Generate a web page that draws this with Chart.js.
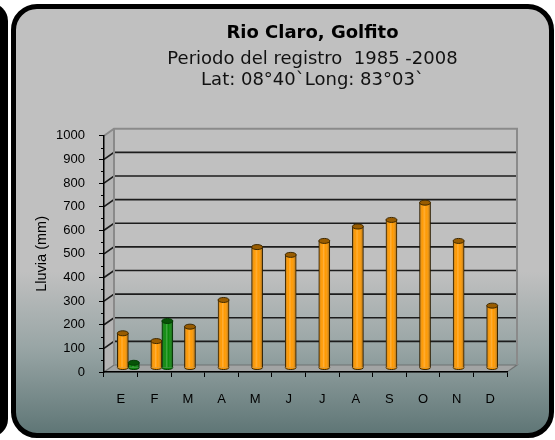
<!DOCTYPE html>
<html>
<head>
<meta charset="utf-8">
<script src="https://cdn.jsdelivr.net/npm/chart.js@4.4.0/dist/chart.umd.min.js"></script>
<style>
  html, body { margin: 0; padding: 0; background: #fff; }
  #wrap { position: relative; width: 555px; height: 440px; overflow: hidden; }
  #vecino { position: absolute; left: -540px; top: 3px; width: 548px; height: 434px; background: #000; border-radius: 18px; }
  #marco {
    position: absolute; left: 11px; top: 4px; width: 543px; height: 434px;
    box-sizing: border-box; border: 5px solid #000; border-radius: 26px;
    background: linear-gradient(to bottom, #c0c0c0 0%, #c0c0c0 62%, #98a5a5 80%, #5f7676 100%);
  }
  canvas { position: absolute; left: 0; top: 0; }
</style>
</head>
<body>
<div id="wrap">
  <div id="vecino"></div>
  <div id="marco"></div>
  <canvas id="chart" width="555" height="440"></canvas>
</div>
<script>
const meses = ['E', 'F', 'M', 'A', 'M', 'J', 'J', 'A', 'S', 'O', 'N', 'D'];
const lluvia = [147, 114, 175, 288, 512, 479, 538, 599, 627, 700, 538, 264];
const lluviaVerde = [22, 199, null, null, null, null, null, null, null, null, null, null];
const vacio = meses.map(() => null);   // empty slot so the orange bar stays centred
const yMax = 1000;
const yPaso = 100;

const DX = 10, DY = -7;   // depth of the fake 3d box

function tono(hex, f) {
  const n = parseInt(hex.slice(1), 16);
  const r = Math.round(((n >> 16) & 255) * f), g = Math.round(((n >> 8) & 255) * f), b = Math.round((n & 255) * f);
  return `rgb(${r},${g},${b})`;
}

const caja3d = {
  id: 'caja3d',
  afterLayout(chart) {
    // title in the original sits a little right of the plot centre
    chart.boxes.forEach(b => {
      if (b.position === 'top' && b.options && b.options.text) { b.left += 7; b.right += 7; }
    });
  },
  beforeDraw(chart) {
    const {ctx, chartArea: a, scales: {y}} = chart;
    ctx.save();
    // left wall
    ctx.fillStyle = '#b4b4b4';
    ctx.beginPath();
    ctx.moveTo(a.left, a.top); ctx.lineTo(a.left + DX, a.top + DY);
    ctx.lineTo(a.left + DX, a.bottom + DY); ctx.lineTo(a.left, a.bottom);
    ctx.closePath(); ctx.fill();
    // floor
    ctx.fillStyle = '#a2a4a4';
    ctx.beginPath();
    ctx.moveTo(a.left, a.bottom); ctx.lineTo(a.right, a.bottom);
    ctx.lineTo(a.right + DX, a.bottom + DY); ctx.lineTo(a.left + DX, a.bottom + DY);
    ctx.closePath(); ctx.fill();
    ctx.strokeStyle = '#6f7272'; ctx.lineWidth = 1.2; ctx.stroke();
    // grid lines on the back wall
    ctx.strokeStyle = '#1c1c1c'; ctx.lineWidth = 1.6;
    for (let v = yPaso; v < yMax; v += yPaso) {
      const py = y.getPixelForValue(v);
      ctx.beginPath();
      ctx.moveTo(a.left, py); ctx.lineTo(a.left + DX, py + DY); ctx.lineTo(a.right + DX, py + DY);
      ctx.stroke();
    }
    // box edges
    ctx.strokeStyle = '#8a8a8a'; ctx.lineWidth = 2;
    const pt = y.getPixelForValue(yMax);
    ctx.beginPath();
    ctx.moveTo(a.left, pt); ctx.lineTo(a.left + DX, pt + DY); ctx.lineTo(a.right + DX, pt + DY);
    ctx.lineTo(a.right + DX, a.bottom + DY);
    ctx.moveTo(a.left + DX, pt + DY); ctx.lineTo(a.left + DX, a.bottom + DY);
    ctx.stroke();
    // minor ticks
    ctx.strokeStyle = '#000'; ctx.lineWidth = 1;
    for (let v = yPaso / 2; v < yMax; v += yPaso) {
      const py = Math.round(y.getPixelForValue(v)) + 0.5;
      ctx.beginPath(); ctx.moveTo(a.left - 3, py); ctx.lineTo(a.left, py); ctx.stroke();
    }
    ctx.restore();
  },
  beforeDatasetsDraw(chart) {
    chart.ctx.save();
    chart.ctx.translate(DX / 2 - 3, DY / 2 - 0.5);
  },
  afterDatasetsDraw(chart) {
    const ctx = chart.ctx;
    chart.data.datasets.forEach((ds, i) => {
      if (!ds.baseColor) return;
      chart.getDatasetMeta(i).data.forEach((el, j) => {
        if (ds.data[j] == null) return;
        const {x, y, base, width: w} = el.getProps(['x', 'y', 'base', 'width'], true);
        const g = ctx.createLinearGradient(x - w / 2, 0, x + w / 2, 0);
        g.addColorStop(0, 'rgba(0,0,0,0.35)');
        g.addColorStop(0.3, 'rgba(255,255,255,0)');
        g.addColorStop(0.42, 'rgba(255,255,255,0.22)');
        g.addColorStop(0.6, 'rgba(255,255,255,0)');
        g.addColorStop(1, 'rgba(0,0,0,0.4)');
        ctx.fillStyle = g;
        ctx.fillRect(x - w / 2, y, w, base - y);
        ctx.beginPath();
        ctx.ellipse(x, base, w / 2, 2, 0, 0, Math.PI);
        ctx.fillStyle = ds.baseColor; ctx.fill();
        ctx.strokeStyle = ds.borderColor; ctx.lineWidth = 1; ctx.stroke();
        ctx.beginPath();
        ctx.ellipse(x, y, w / 2, 2.5, 0, 0, Math.PI * 2);
        ctx.fillStyle = tono(ds.baseColor, 0.6); ctx.fill();
        ctx.stroke();
      });
    });
    ctx.restore();
  }
};

new Chart(document.getElementById('chart'), {
  type: 'bar',
  data: {
    labels: meses,
    datasets: [
      { label: '', data: vacio },
      { label: 'Lluvia', data: lluvia, baseColor: '#ff9900', backgroundColor: '#ff9900', borderColor: '#3d2800', borderWidth: 1, barThickness: 11 },
      { label: 'Lluvia 2', data: lluviaVerde, baseColor: '#0b8a0b', backgroundColor: '#0b8a0b', borderColor: '#033a03', borderWidth: 1, barThickness: 11 }
    ]
  },
  options: {
    responsive: false,
    animation: false,
    layout: { padding: { left: 0, right: 48, top: 0, bottom: 0 } },
    plugins: {
      legend: { display: false },
      tooltip: { enabled: false },
      title: {
        display: true, fullSize: false,
        text: 'Rio Claro, Golfito',
        color: '#000',
        font: { family: 'DejaVu Sans', size: 18, weight: 'bold', lineHeight: 1.2 },
        padding: { top: 23, bottom: 3.5 }
      },
      subtitle: {
        display: true, fullSize: false,
        text: ['Periodo del registro  1985 -2008', 'Lat: 08°40`Long: 83°03`'],
        color: '#111',
        font: { family: 'DejaVu Sans', size: 18, lineHeight: 1.2 },
        padding: { top: 0, bottom: 44.5 }
      }
    },
    scales: {
      x: {
        ticks: { color: '#000', font: { family: 'Liberation Sans', size: 13 }, padding: 15 },
        grid: { drawOnChartArea: false, tickLength: 5, color: '#000', offset: true },
        border: { color: '#000', width: 1.5 },
        afterFit: s => { s.height = 68; }
      },
      y: {
        min: 0, max: yMax,
        ticks: { stepSize: yPaso, color: '#000', font: { family: 'Liberation Sans', size: 13 }, padding: 14, callback: v => String(v) },
        grid: { drawOnChartArea: false, tickLength: 5, color: '#000' },
        border: { color: '#000', width: 1.5 },
        title: { display: true, text: 'Lluvia (mm)', color: '#000', font: { family: 'Liberation Sans', size: 14.5 }, padding: { top: 33, bottom: 0 } },
        afterFit: s => { s.width = 104; }
      }
    }
  },
  plugins: [caja3d]
});
</script>
</body>
</html>
